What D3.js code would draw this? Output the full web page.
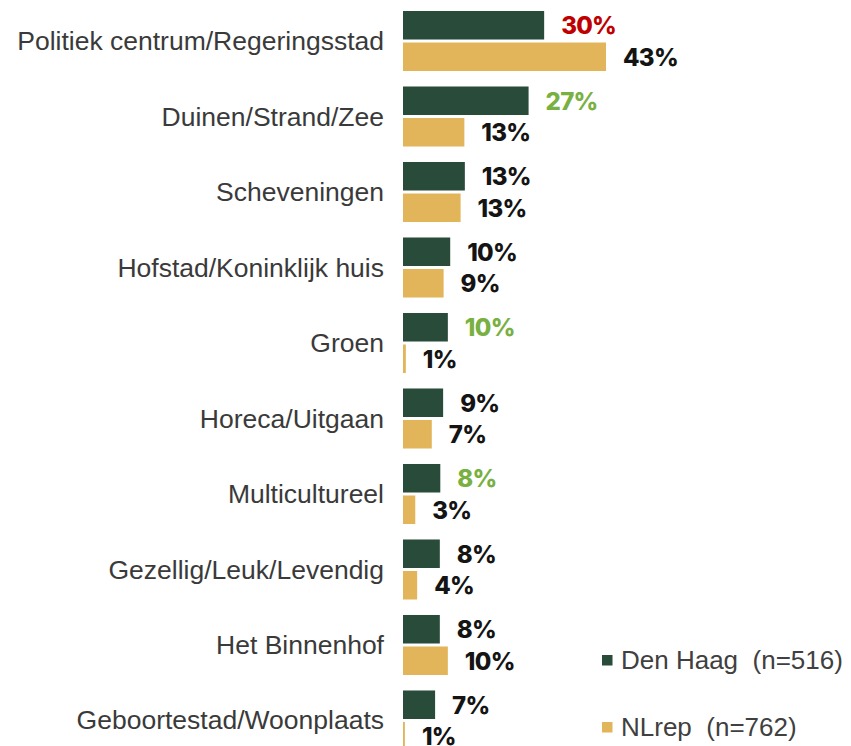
<!DOCTYPE html>
<html>
<head>
<meta charset="utf-8">
<script src="https://cdn.jsdelivr.net/npm/d3@7"></script>
<style>
  body { margin: 0; background: #fff; }
  .cat { font-family: "Liberation Sans", Arial, sans-serif; font-size: 26.5px; fill: #3a3a3a; }
  .val { font-family: Inter, "Open Sans", sans-serif; font-weight: 800; font-size: 24px; letter-spacing: -0.7px; }
  .leg { font-family: "Liberation Sans", Arial, sans-serif; font-size: 26px; fill: #404040; white-space: pre; }
</style>
</head>
<body>
<svg id="chart" width="851" height="746"></svg>
<script>
// categories, top to bottom
var categories = ["Politiek centrum/Regeringsstad", "Duinen/Strand/Zee", "Scheveningen",
    "Hofstad/Koninklijk huis", "Groen", "Horeca/Uitgaan", "Multicultureel",
    "Gezellig/Leuk/Levendig", "Het Binnenhof", "Geboortestad/Woonplaats"];

// bar lengths (%)
var denHaag = [29.9, 26.6, 13.1, 10.0, 9.5, 8.5, 7.9, 7.8, 7.8, 6.8];
var nlRep   = [43.0, 13.0, 12.2, 8.6, 0.6, 6.1, 2.6, 3.0, 9.5, 0.4];

// printed labels
var denHaagLabels = ["30%", "27%", "13%", "10%", "10%", "9%", "8%", "8%", "8%", "7%"];
var nlRepLabels   = ["43%", "13%", "13%", "9%", "1%", "7%", "3%", "4%", "10%", "1%"];

// label colour: red = significantly lower, green = significantly higher
var denHaagSig = ["low", "high", "", "", "high", "", "high", "", "", ""];

var series = [
    { key: "dh", name: "Den Haag  (n=516)", color: "#284b3a", values: denHaag, labels: denHaagLabels },
    { key: "nl", name: "NLrep  (n=762)",    color: "#e3b55a", values: nlRep,   labels: nlRepLabels }
];

var svg = d3.select("#chart");

var x = d3.scaleLinear()
    .domain([0, 43])
    .range([403, 606]);

var y = d3.scaleBand()
    .domain(categories)
    .range([11, 750.5])
    .paddingInner(0.205)
    .paddingOuter(0);

var ySub = d3.scaleBand()
    .domain(series.map(function(s) { return s.key; }))
    .range([0, y.bandwidth()])
    .paddingInner(0.095);

// category labels
svg.selectAll("text.cat")
    .data(categories)
    .enter()
    .append("text")
    .attr("class", "cat")
    .attr("x", 384)
    .attr("y", function(d) { return y(d) + y.bandwidth() / 2; })
    .attr("dy", "0.34em")
    .attr("text-anchor", "end")
    .text(function(d) { return d; });

// a group per series
var groups = svg.selectAll("g.series")
    .data(series)
    .enter()
    .append("g")
    .attr("class", "series");

groups.selectAll("rect")
    .data(function(s) {
        return categories.map(function(c, i) { return { s: s, cat: c, v: s.values[i], i: i }; });
    })
    .enter()
    .append("rect")
    .attr("x", x(0))
    .attr("y", function(d) { return y(d.cat) + ySub(d.s.key); })
    .attr("width", function(d) { return x(d.v) - x(0); })
    .attr("height", ySub.bandwidth())
    .attr("fill", function(d) { return d.s.color; });

groups.selectAll("text.val")
    .data(function(s) {
        return categories.map(function(c, i) { return { s: s, cat: c, v: s.values[i], i: i }; });
    })
    .enter()
    .append("text")
    .attr("class", "val")
    .attr("x", function(d) { return x(d.v) + 17; })
    .attr("y", function(d) { return y(d.cat) + ySub(d.s.key) + ySub.bandwidth() / 2; })
    .attr("dy", "0.38em")
    .attr("fill", function(d) {
        if (d.s.key === "dh" && denHaagSig[d.i] === "low") return "#c00000";
        if (d.s.key === "dh" && denHaagSig[d.i] === "high") return "#78b041";
        return "#141414";
    })
    .text(function(d) { return d.s.labels[d.i]; });

// legend
var legend = svg.selectAll("g.legend")
    .data(series)
    .enter()
    .append("g")
    .attr("class", "legend")
    .attr("transform", function(d, i) { return "translate(602," + (655 + i * 67) + ")"; });

legend.append("rect")
    .attr("width", 10.5)
    .attr("height", 10.5)
    .attr("fill", function(d) { return d.color; });

legend.append("text")
    .attr("class", "leg")
    .attr("x", 19)
    .attr("y", 13.5)
    .text(function(d) { return d.name; });
</script>
</body>
</html>
